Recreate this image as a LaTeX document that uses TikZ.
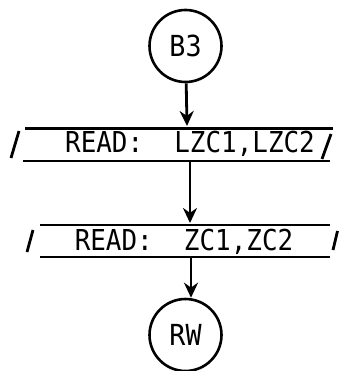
\documentclass[tikz,border=0pt]{standalone}
\usepackage{fontspec}
\usepackage{graphicx}
\newfontfamily\flowmono{DejaVu Sans Mono}
\usetikzlibrary{arrows.meta}
\begin{document}
\begin{tikzpicture}[x=1pt,y=-1pt,
  frame/.style={line width=2.8pt},
  arr/.style={line width=2.8pt,-{Stealth[length=15pt,width=14pt]}},
  term/.style={circle,draw,line width=2.6pt,minimum size=72pt,inner sep=0pt,
    font=\flowmono\fontsize{29}{29}\selectfont},
  txt/.style={anchor=base,inner sep=0pt,font=\flowmono\fontsize{28.8}{28.8}\selectfont}]
\useasboundingbox (0,0) rectangle (339,371);
% terminals
\node[term] (b3) at (185.5,46) {\scalebox{0.92}[1]{B3}};
\node[term] (rw) at (185.5,335) {\scalebox{0.92}[1]{RW}};
% input/output texts
\node[txt] (r1) at (190,153) {\scalebox{0.9}[1]{READ:\ \ LZC1,LZC2}};
\node[txt] (r2) at (184,250) {\scalebox{0.9}[1]{READ:\ \ ZC1,ZC2}};
% frame 1
\draw[frame] (25,128.5) -- (333,128.5);
\draw[frame] (23,161) -- (330,161);
\draw[frame] (11,158) -- (19,131);
\draw[frame] (322,159) -- (331,134);
% frame 2
\draw[frame] (40,225) -- (330,225);
\draw[frame] (40,257) -- (330,257);
\draw[frame] (27,252) -- (33,230);
\draw[frame] (333,250) -- (337.5,231);
% connector ends
\coordinate (t1) at (187,126);
\coordinate (p1b) at (190,162);
\coordinate (p2t) at (190,223);
\coordinate (p2b) at (191,258);
% connectors
\draw[arr] (b3) -- (t1);
\draw[arr] (p1b) -- (p2t);
\draw[arr] (p2b) -- (p2b |- rw.north);
\end{tikzpicture}
\end{document}
